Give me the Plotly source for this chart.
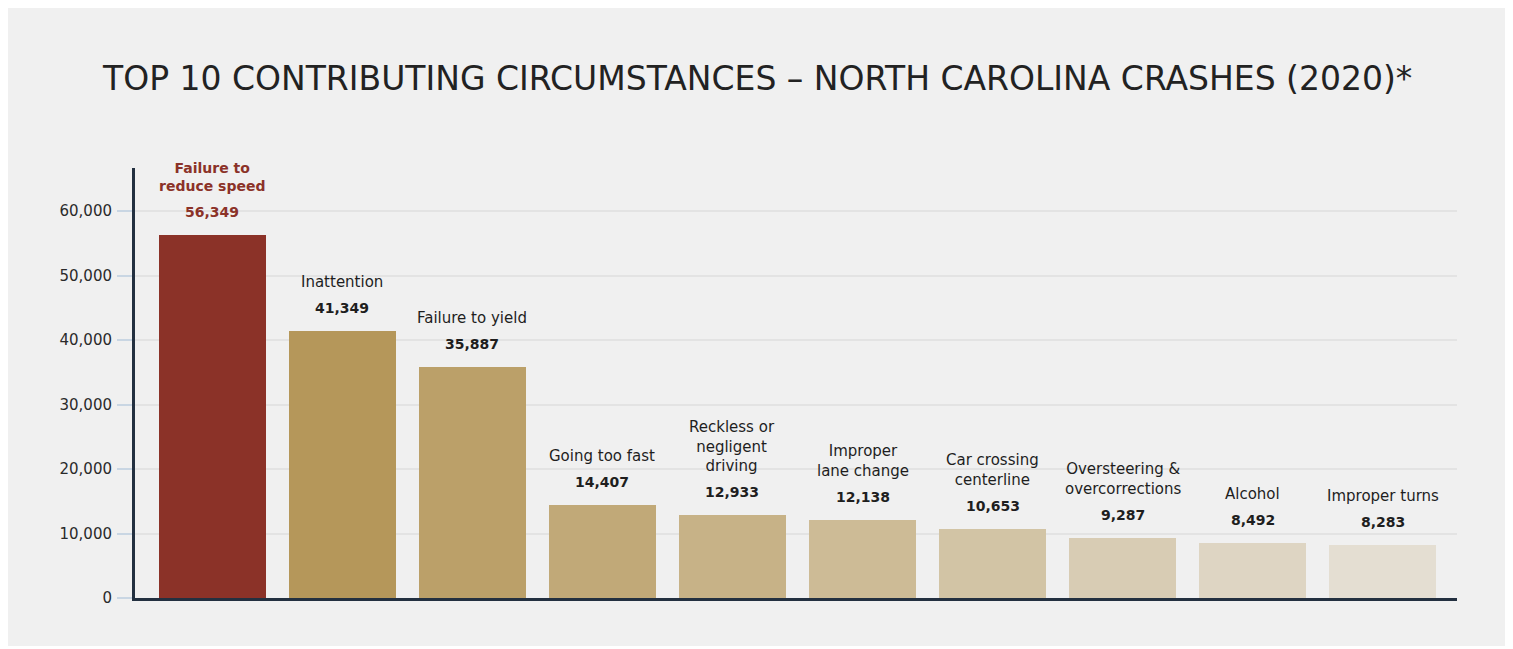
import plotly.graph_objects as go

# ---- data ----
categories = [
    "Failure to<br>reduce speed", "Inattention", "Failure to yield", "Going too fast",
    "Reckless or<br>negligent<br>driving", "Improper<br>lane change", "Car crossing<br>centerline",
    "Oversteering &<br>overcorrections", "Alcohol", "Improper turns",
]
values = [56349, 41349, 35887, 14407, 12933, 12138, 10653, 9287, 8492, 8283]
value_labels = ["56,349", "41,349", "35,887", "14,407", "12,933", "12,138", "10,653", "9,287", "8,492", "8,283"]
y_ticks = [0, 10000, 20000, 30000, 40000, 50000, 60000]
title_text = "TOP 10 CONTRIBUTING CIRCUMSTANCES – NORTH CAROLINA CRASHES (2020)*"

# ---- style ----
W, H = 1513, 649
OFF = 8  # page body margin
L, R, T, B = 135 - OFF, 1513 - (1457 - OFF), 168 - OFF, 649 - (598 - OFF)
HIGHLIGHT = "#8B3228"
BASE = (181, 151, 90)
BG = (240, 240, 240)

def blend(alpha):
    r, g, b = (round(alpha * c + (1 - alpha) * bg) for c, bg in zip(BASE, BG))
    return f"#{r:02x}{g:02x}{b:02x}"

alphas = [1.0, 0.9, 0.8, 0.7, 0.6, 0.5, 0.4, 0.3, 0.2]
colors = [HIGHLIGHT] + [blend(a) for a in alphas]

x_idx = list(range(len(categories)))

fig = go.Figure()
fig.add_trace(go.Bar(
    x=x_idx, y=values, marker=dict(color=colors, line=dict(width=0)),
    width=107 / 130, hoverinfo="skip", showlegend=False,
))

FONT = "DejaVu Sans"
for i, (cat, v, lab) in enumerate(zip(categories, values, value_labels)):
    col = HIGHLIGHT if i == 0 else "#1e1e1e"
    fig.add_annotation(x=i, y=v, xref="x", yref="y", text=lab, showarrow=False,
                       yanchor="bottom", yshift=13,
                       font=dict(family=FONT, size=14, color=col, weight="bold"))
    fig.add_annotation(x=i, y=v, xref="x", yref="y", text=cat, showarrow=False,
                       yanchor="bottom", yshift=38 if i else 39,
                       font=dict(family=FONT, size=15 if i else 14, color=col,
                                 weight="bold" if i == 0 else "normal"))

pw = W - L - R
ph = H - T - B
fig.add_shape(type="rect", xref="paper", yref="paper",
              x0=(6 - OFF - L) / pw, x1=(1509 - OFF - L) / pw,
              y0=-(646 - OFF - (T + ph)) / ph, y1=(T + ph - (6 - OFF)) / ph,
              fillcolor="#f0f0f0", line=dict(width=0), layer="below")

fig.add_annotation(xref="paper", yref="paper", x=(757 - OFF - L) / pw, y=(T + ph - (79 - OFF)) / ph,
                   text=title_text, showarrow=False, xanchor="center", yanchor="middle",
                   font=dict(family=FONT, size=33, color="#222222"))

fig.update_layout(
    width=W, height=H,
    margin=dict(l=L, r=R, t=T, b=B, pad=0),
    paper_bgcolor="white", plot_bgcolor="rgba(0,0,0,0)",
    bargap=0,
    xaxis=dict(range=[-0.596, 9.573], showticklabels=False, ticks="", showgrid=False,
               zeroline=False, showline=True, linecolor="#233040", linewidth=3, fixedrange=True),
    yaxis=dict(range=[0, 66670], tickvals=y_ticks, tickformat=",", showgrid=True,
               gridcolor="#e3e3e3", gridwidth=2, zeroline=False,
               showline=True, linecolor="#233040", linewidth=3,
               ticks="outside", ticklen=15, tickwidth=2, tickcolor="#c9d6e3",
               ticklabelstandoff=2,
               tickfont=dict(family=FONT, size=15, color="#2a2a2a"), fixedrange=True),
    font=dict(family=FONT),
)

fig.write_html("out.html")
